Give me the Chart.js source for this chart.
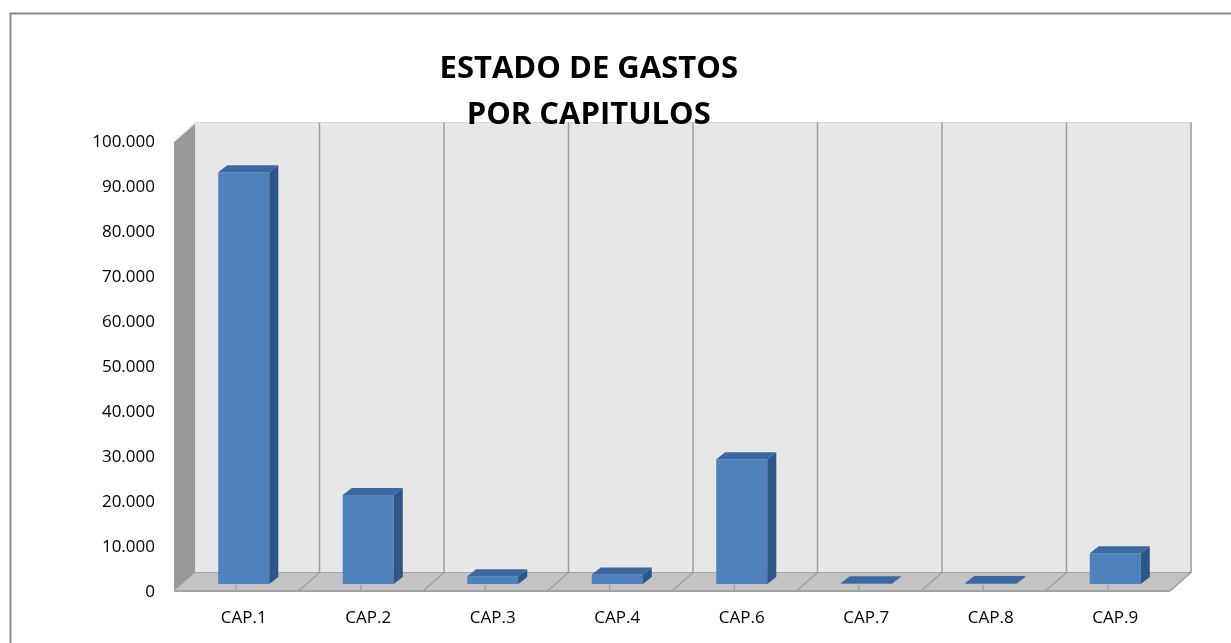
<!DOCTYPE html>
<html>
<head>
<meta charset="utf-8">
<script src="https://cdn.jsdelivr.net/npm/chart.js@4/dist/chart.umd.min.js"></script>
<style>
  html, body { margin: 0; padding: 0; background: #ffffff; }
  #wrap { width: 1231px; height: 643px; position: relative; }
</style>
</head>
<body>
<div id="wrap"><canvas id="c" width="1231" height="643"></canvas></div>
<script>
// ---- data ----
const titleLines = ['ESTADO DE GASTOS', 'POR CAPITULOS'];
const categories = ['CAP.1', 'CAP.2', 'CAP.3', 'CAP.4', 'CAP.6', 'CAP.7', 'CAP.8', 'CAP.9'];
const gastos = [91500, 19800, 1700, 2100, 27700, 150, 200, 6850];
const yMin = 0;
const yMax = 100000;
const yStep = 10000;

function fmtMiles(v) {
  return String(Math.round(v)).replace(/\B(?=(\d{3})+(?!\d))/g, '.');
}

// 3D geometry (pixel offsets relative to the bar plane)
const FRONT = { dx: -7.5, dy: 7 };
const BACK = { dx: 13.5, dy: -11.5 };
const BAR_DEPTH = { dx: 9, dy: -7 };

function poly(ctx, pts, fill, stroke, lw) {
  ctx.beginPath();
  ctx.moveTo(pts[0][0], pts[0][1]);
  for (let i = 1; i < pts.length; i++) ctx.lineTo(pts[i][0], pts[i][1]);
  ctx.closePath();
  if (fill) { ctx.fillStyle = fill; ctx.fill(); }
  if (stroke) { ctx.strokeStyle = stroke; ctx.lineWidth = lw || 1; ctx.stroke(); }
}

const frame3d = {
  id: 'frame3d',
  beforeDraw(chart) {
    const ctx = chart.ctx;
    const a = chart.chartArea;
    const x = chart.scales.x;
    const L = a.left, R = a.right, T = a.top, B = a.bottom;
    ctx.save();
    // outer chart border
    ctx.strokeStyle = '#878787';
    ctx.lineWidth = 2;
    ctx.strokeRect(10.5, 13.5, 1300, 700);
    // back wall
    poly(ctx, [[L + BACK.dx, T + BACK.dy], [R + BACK.dx, T + BACK.dy], [R + BACK.dx, B + BACK.dy], [L + BACK.dx, B + BACK.dy]], '#e7e7e7', '#d9d9d9', 1);
    // left wall
    poly(ctx, [[L + FRONT.dx, T + FRONT.dy], [L + BACK.dx, T + BACK.dy], [L + BACK.dx, B + BACK.dy], [L + FRONT.dx, B + FRONT.dy]], '#999999', null);
    // light bevel on top of the left wall
    ctx.strokeStyle = '#f2f2f2';
    ctx.lineWidth = 2;
    ctx.beginPath();
    ctx.moveTo(L + FRONT.dx, T + FRONT.dy);
    ctx.lineTo(L + BACK.dx, T + BACK.dy);
    ctx.stroke();
    // floor
    poly(ctx, [[L + FRONT.dx, B + FRONT.dy], [L + BACK.dx, B + BACK.dy], [R + BACK.dx, B + BACK.dy], [R + FRONT.dx, B + FRONT.dy]], '#c3c3c3', '#a6a6a6', 1);
    // front edge of the floor
    ctx.strokeStyle = '#a3a3a3';
    ctx.lineWidth = 2;
    ctx.beginPath();
    ctx.moveTo(L + FRONT.dx, B + FRONT.dy);
    ctx.lineTo(R + FRONT.dx, B + FRONT.dy);
    ctx.stroke();
    // category separators on the back wall and across the floor
    const n = categories.length;
    const cw = (R - L) / n;
    ctx.strokeStyle = '#9e9e9e';
    ctx.lineWidth = 1.5;
    for (let i = 1; i <= n; i++) {
      const bx = L + i * cw;
      ctx.beginPath();
      ctx.moveTo(bx + BACK.dx, T + BACK.dy);
      ctx.lineTo(bx + BACK.dx, B + BACK.dy);
      ctx.lineTo(bx + FRONT.dx, B + FRONT.dy);
      ctx.stroke();
    }
    // small tick marks at category centres on the floor
    ctx.lineWidth = 1.2;
    ctx.strokeStyle = '#9a9a9a';
    for (let i = 0; i < n; i++) {
      const cx = x.getPixelForValue(i) + FRONT.dx;
      ctx.beginPath();
      ctx.moveTo(cx, B + FRONT.dy - 6);
      ctx.lineTo(cx, B + FRONT.dy - 1);
      ctx.stroke();
    }
    ctx.restore();
  },
  afterDatasetsDraw(chart) {
    const ctx = chart.ctx;
    const meta = chart.getDatasetMeta(0);
    ctx.save();
    meta.data.forEach((bar) => {
      const p = bar.getProps(['x', 'y', 'base', 'width'], true);
      const l = p.x - p.width / 2, r = p.x + p.width / 2;
      const top = Math.min(p.y, p.base), bot = Math.max(p.y, p.base);
      // side face
      poly(ctx, [[r, top], [r + BAR_DEPTH.dx, top + BAR_DEPTH.dy], [r + BAR_DEPTH.dx, bot + BAR_DEPTH.dy], [r, bot]], '#2f5689', null);
      // top face
      poly(ctx, [[l, top], [l + BAR_DEPTH.dx, top + BAR_DEPTH.dy], [r + BAR_DEPTH.dx, top + BAR_DEPTH.dy], [r, top]], '#3b68a1', null);
    });
    ctx.restore();
  }
};

const ctx = document.getElementById('c').getContext('2d');
new Chart(ctx, {
  type: 'bar',
  data: {
    labels: categories,
    datasets: [{
      label: 'Gastos',
      data: gastos,
      backgroundColor: '#4f81bd',
      borderWidth: 0,
      categoryPercentage: 1,
      barPercentage: 0.41
    }]
  },
  options: {
    responsive: false,
    animation: false,
    devicePixelRatio: 1,
    layout: { padding: { left: 0, right: 53.5, top: 0, bottom: 0 } },
    plugins: {
      legend: { display: false },
      tooltip: { enabled: false },
      title: {
        display: true,
        text: titleLines,
        color: '#000000',
        font: { family: '"Open Sans", sans-serif', size: 31, weight: 'bold', lineHeight: 1.484 },
        padding: { top: 46, bottom: -4 },
        align: 'center'
      }
    },
    scales: {
      x: {
        type: 'category',
        offset: true,
        grid: { display: false, drawTicks: false },
        border: { display: false },
        ticks: {
          color: '#000000',
          padding: 24,
          maxRotation: 0,
          autoSkip: false,
          font: { family: '"Open Sans", sans-serif', size: 17 }
        },
        afterFit(scale) { scale.height = 59; }
      },
      y: {
        min: yMin,
        max: yMax,
        grid: { display: false, drawTicks: false },
        border: { display: false },
        ticks: {
          stepSize: yStep,
          color: '#000000',
          padding: 26.5,
          labelOffset: 8,
          font: { family: '"Open Sans", sans-serif', size: 17 },
          callback: (v) => fmtMiles(v)
        },
        afterFit(scale) { scale.width = 181.5; }
      }
    }
  },
  plugins: [frame3d]
});
</script>
</body>
</html>
